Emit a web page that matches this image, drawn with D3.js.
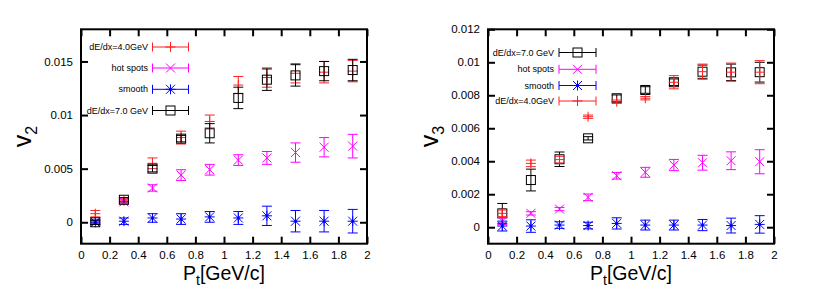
<!DOCTYPE html>
<html><head><meta charset="utf-8">
<script src="https://cdn.jsdelivr.net/npm/d3@7"></script>
<style>
body{margin:0;background:#fff;}
svg text{font-family:"Liberation Sans",Arial,Helvetica,sans-serif;}
</style></head>
<body><svg id="c" width="814" height="305"></svg>
<script>
// ---------- data ----------
const pt = [0.1,0.3,0.5,0.7,0.9,1.1,1.3,1.5,1.7,1.9];
const xTicks = [0,0.2,0.4,0.6,0.8,1,1.2,1.4,1.6,1.8,2];
const xTickLabels = ["0","0.2","0.4","0.6","0.8","1","1.2","1.4","1.6","1.8","2"];

// v2 panel
const v2Ticks = [0,0.005,0.01,0.015];
const v2TickLabels = ["0","0.005","0.01","0.015"];
const v2_de4      = [0.0008,0.0020,0.0055,0.0079,0.0094,0.0128,0.0135,0.0139,0.0140,0.0141];
const v2_de4_err  = [0.0003,0.0002,0.0005,0.0006,0.0006,0.0008,0.0009,0.0009,0.0010,0.0010];
const v2_hot      = [0.0000,0.0019,0.0032,0.0044,0.0049,0.0058,0.0060,0.0065,0.0070,0.0071];
const v2_hot_err  = [0.0001,0.0002,0.0003,0.0005,0.0005,0.0005,0.0006,0.0009,0.0009,0.0011];
const v2_smooth     = [0.0000,0.0001,0.0004,0.0003,0.0005,0.0004,0.0006,0.0001,0.0001,0.0001];
const v2_smooth_err = [0.0002,0.0003,0.0004,0.0005,0.0005,0.0006,0.0009,0.0010,0.0010,0.0011];
const v2_de7      = [0.0000,0.0021,0.0050,0.0078,0.0083,0.0116,0.0133,0.0137,0.0141,0.0142];
const v2_de7_err  = [0.0002,0.0002,0.0003,0.0003,0.0009,0.0010,0.0010,0.0010,0.0009,0.0010];

// v3 panel
const v3Ticks = [0,0.002,0.004,0.006,0.008,0.01,0.012];
const v3TickLabels = ["0","0.002","0.004","0.006","0.008","0.01","0.012"];
const v3_de7      = [0.00084,0.00286,0.00412,0.00539,0.00782,0.00832,0.00879,0.00943,0.00939,0.00940];
const v3_de7_err  = [0.0006,0.00066,0.00044,0.0001,0.0002,0.0002,0.0002,0.0004,0.0005,0.0006];
const v3_hot      = [0.00037,0.00084,0.0011,0.00181,0.00312,0.00333,0.00377,0.00391,0.00403,0.00397];
const v3_hot_err  = [0.0002,0.0001,0.0001,0.0002,0.0002,0.0003,0.00034,0.00045,0.00054,0.00073];
const v3_smooth     = [0.00007,0.00007,0.00013,0.0001,0.00023,0.00013,0.00013,0.00013,0.0001,0.00017];
const v3_smooth_err = [0.0003,0.00038,0.0002,0.0002,0.00034,0.0003,0.0003,0.00034,0.00045,0.00053];
const v3_de4      = [0.00084,0.00387,0.0041,0.0067,0.00761,0.00782,0.00879,0.00943,0.0094,0.0094];
const v3_de4_err  = [0.0002,0.0002,0.0002,0.0001,0.0001,0.0001,0.0004,0.00046,0.00055,0.0007];

const seriesNames = {de4:"dE/dx=4.0GeV", hot:"hot spots", smooth:"smooth", de7:"dE/dx=7.0 GeV"};
const colors = {de4:"#ff2020", hot:"#ff00ff", smooth:"#0000ff", de7:"#000000"};
const markers = {de4:"plus", hot:"cross", smooth:"star", de7:"square"};

// ---------- drawing ----------
const svg = d3.select("#c");

function drawMarker(g, type, x, y, color){
  const s = 5;
  if(type==="plus"){
    g.append("line").attr("x1",x-s).attr("x2",x+s).attr("y1",y).attr("y2",y).attr("stroke",color);
    g.append("line").attr("x1",x).attr("x2",x).attr("y1",y-s).attr("y2",y+s).attr("stroke",color);
  } else if(type==="cross"||type==="star"){
    const d=4.5;
    g.append("line").attr("x1",x-d).attr("x2",x+d).attr("y1",y-d).attr("y2",y+d).attr("stroke",color);
    g.append("line").attr("x1",x-d).attr("x2",x+d).attr("y1",y+d).attr("y2",y-d).attr("stroke",color);
    if(type==="star"){
      g.append("line").attr("x1",x-s).attr("x2",x+s).attr("y1",y).attr("y2",y).attr("stroke",color);
      g.append("line").attr("x1",x).attr("x2",x).attr("y1",y-s).attr("y2",y+s).attr("stroke",color);
      g.append("circle").attr("cx",x).attr("cy",y).attr("r",1.5).attr("fill",color);
    }
  } else if(type==="square"){
    g.append("rect").attr("x",x-4.5).attr("y",y-4.5).attr("width",9).attr("height",9)
      .attr("fill","none").attr("stroke",color);
  }
}

function panel(opt){
  const {left,right,top,bottom,yDomain,yTicks,yTickLabels,series,legend,ylabelSub,ylabelX} = opt;
  const x = d3.scaleLinear().domain([0,2]).range([left,right]);
  const y = d3.scaleLinear().domain(yDomain).range([bottom,top]);
  const g = svg.append("g");

  const tl = 7;
  g.append("g").attr("transform",`translate(0,${bottom})`)
    .call(d3.axisBottom(x).tickValues(xTicks).tickSize(-tl).tickPadding(7)
      .tickFormat((d,i)=>xTickLabels[i]))
    .call(s=>{s.select(".domain").remove(); s.selectAll("line").attr("stroke","#000").attr("stroke-width",2);
      s.selectAll("text").attr("font-size",11.5).attr("fill","#000");});
  g.append("g").attr("transform",`translate(0,${top})`)
    .call(d3.axisTop(x).tickValues(xTicks).tickSize(-tl).tickFormat(""))
    .call(s=>{s.select(".domain").remove(); s.selectAll("line").attr("stroke","#000").attr("stroke-width",2);});
  g.append("g").attr("transform",`translate(${left},0)`)
    .call(d3.axisLeft(y).tickValues(yTicks).tickSize(-tl).tickPadding(8)
      .tickFormat((d,i)=>yTickLabels[i]))
    .call(s=>{s.select(".domain").remove(); s.selectAll("line").attr("stroke","#000").attr("stroke-width",2);
      s.selectAll("text").attr("font-size",11.5).attr("fill","#000");});
  g.append("g").attr("transform",`translate(${right},0)`)
    .call(d3.axisRight(y).tickValues(yTicks).tickSize(-tl).tickFormat(""))
    .call(s=>{s.select(".domain").remove(); s.selectAll("line").attr("stroke","#000").attr("stroke-width",2);});

  g.append("rect").attr("x",left).attr("y",top).attr("width",right-left).attr("height",bottom-top)
    .attr("fill","none").attr("stroke","#000").attr("stroke-width",2);

  // legend
  const lg = g.append("g");
  legend.rows.forEach((key,i)=>{
    const ly = legend.ys[i];
    const c = colors[key];
    lg.append("text").attr("x",legend.textX).attr("y",ly).attr("dy","0.35em")
      .attr("text-anchor","end").attr("font-size",9).attr("fill","#000").text(seriesNames[key]);
    lg.append("line").attr("x1",legend.x1).attr("x2",legend.x2).attr("y1",ly).attr("y2",ly).attr("stroke",c);
    [legend.x1,legend.x2].forEach(xx=>lg.append("line").attr("x1",xx).attr("x2",xx)
      .attr("y1",ly-4.5).attr("y2",ly+4.5).attr("stroke",c));
    drawMarker(lg, markers[key], (legend.x1+legend.x2)/2, ly, c);
  });

  // data
  series.forEach(s=>{
    const sg = g.append("g");
    const c = colors[s.key];
    s.vals.forEach((v,i)=>{
      const px = x(pt[i]);
      const y1 = y(v - s.err[i]), y2 = y(v + s.err[i]);
      sg.append("line").attr("x1",px).attr("x2",px).attr("y1",y1).attr("y2",y2).attr("stroke",c);
      sg.append("line").attr("x1",px-5).attr("x2",px+5).attr("y1",y1).attr("y2",y1).attr("stroke",c);
      sg.append("line").attr("x1",px-5).attr("x2",px+5).attr("y1",y2).attr("y2",y2).attr("stroke",c);
      drawMarker(sg, markers[s.key], px, y(v), c);
    });
  });

  // axis titles
  const xt = g.append("text").attr("x",(left+right)/2).attr("y",280).attr("text-anchor","middle")
    .attr("font-size",19.5).attr("fill","#000");
  xt.append("tspan").text("P");
  xt.append("tspan").attr("font-size",14).attr("dy",5).text("t");
  xt.append("tspan").attr("dy",-5).text("[GeV/c]");

  const yt = g.append("text").attr("transform",`translate(${ylabelX},${(top+bottom)/2}) rotate(-90)`)
    .attr("text-anchor","middle").attr("font-size",25).attr("fill","#000");
  yt.append("tspan").text("v");
  yt.append("tspan").attr("font-size",16).attr("dy",6).text(ylabelSub);
}

panel({
  left:81,right:367,top:29.3,bottom:243.7,yDomain:[-0.002,0.018],
  yTicks:v2Ticks,yTickLabels:v2TickLabels,ylabelSub:"2",ylabelX:31,
  series:[
    {key:"de4",vals:v2_de4,err:v2_de4_err},
    {key:"hot",vals:v2_hot,err:v2_hot_err},
    {key:"smooth",vals:v2_smooth,err:v2_smooth_err},
    {key:"de7",vals:v2_de7,err:v2_de7_err}
  ],
  legend:{rows:["de4","hot","smooth","de7"],ys:[47,68,89.3,110.5],textX:148,x1:152.5,x2:188.5}
});

panel({
  left:488,right:774,top:29.3,bottom:243.7,yDomain:[-0.001,0.012],
  yTicks:v3Ticks,yTickLabels:v3TickLabels,ylabelSub:"3",ylabelX:438,
  series:[
    {key:"de7",vals:v3_de7,err:v3_de7_err},
    {key:"hot",vals:v3_hot,err:v3_hot_err},
    {key:"smooth",vals:v3_smooth,err:v3_smooth_err},
    {key:"de4",vals:v3_de4,err:v3_de4_err}
  ],
  legend:{rows:["de7","hot","smooth","de4"],ys:[52.5,69.3,85.5,101],textX:554,x1:559,x2:596}
});
</script></body></html>
